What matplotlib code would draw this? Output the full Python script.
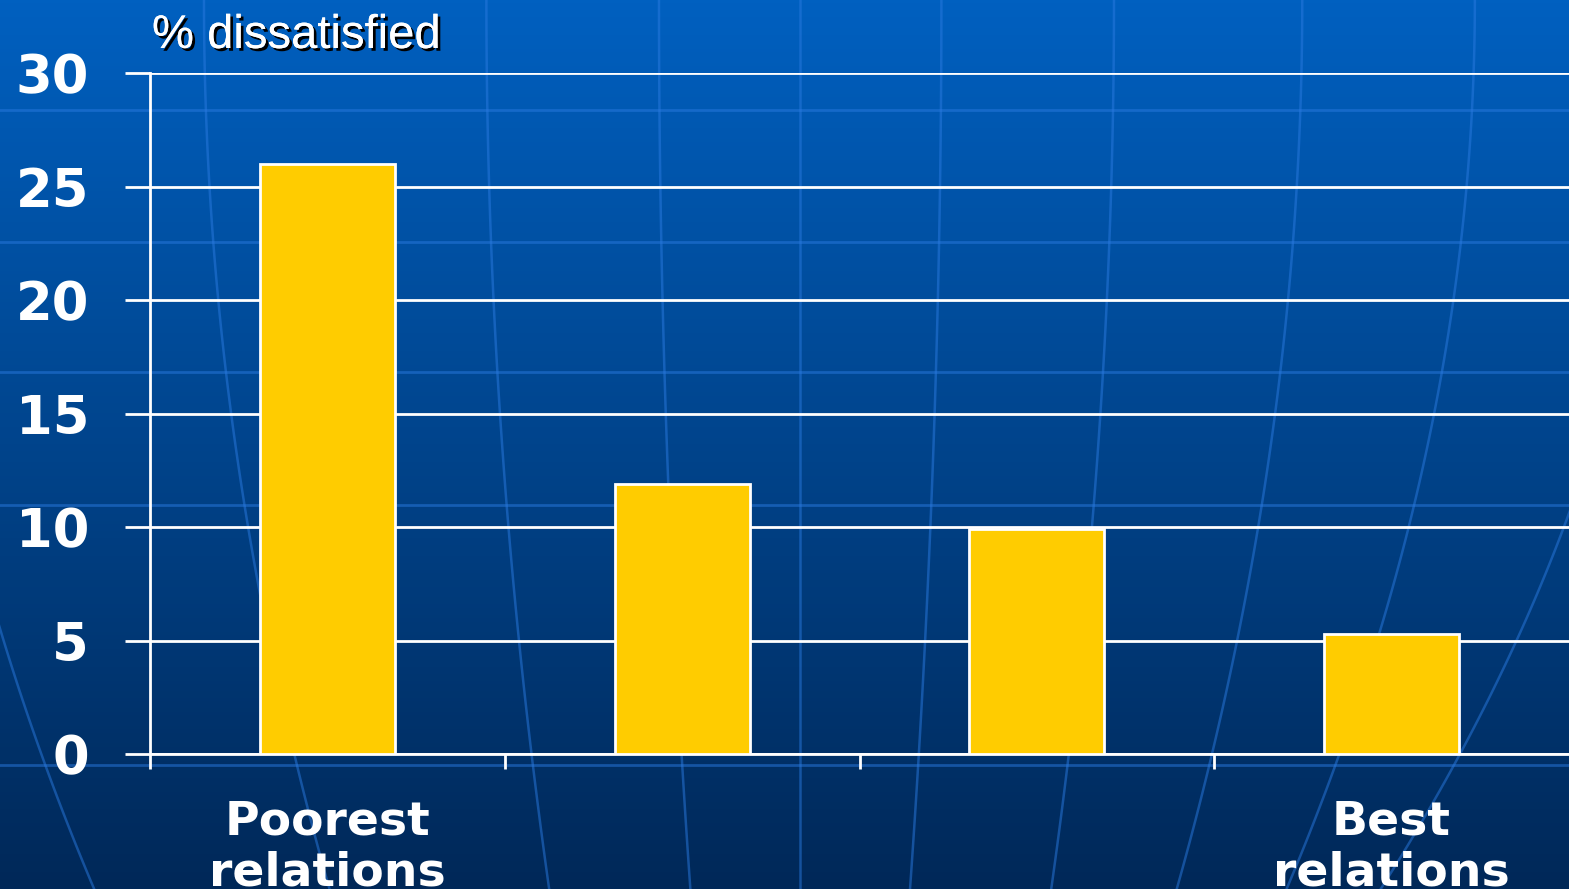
import numpy as np
import matplotlib
matplotlib.use('Agg')
import matplotlib.pyplot as plt
import matplotlib.patheffects as pe

categories = ['Poorest\nrelations', '', '', 'Best\nrelations']
values = [26.0, 11.9, 9.9, 5.3]
yticks = [0, 5, 10, 15, 20, 25, 30]

plt.rcParams['font.family'] = ['Liberation Sans', 'DejaVu Sans']

fig = plt.figure(figsize=(15.69, 8.89), dpi=100)

# background gradient + faint globe lines
bg = fig.add_axes([0, 0, 1, 1])
grad = np.linspace(0, 1, 256).reshape(-1, 1)
top = np.array([0, 96, 192]) / 255
bot = np.array([0, 40, 88]) / 255
img = top + (bot - top) * grad[..., None]
bg.imshow(img, extent=[0, 1, 0, 1], aspect='auto', origin='upper')
for yy in [1 - 110/889, 1 - 242/889, 1 - 372/889, 1 - 505/889, 1 - 765/889]:
    bg.axhline(yy, color='#2a7ae0', lw=2, alpha=0.5)
t = np.linspace(0, 1, 100)
for x0, bend in [(0.0, 0.06), (0.17, 0.04), (0.33, 0.02), (0.43, 0.01), (0.51, 0.0),
                 (0.59, -0.01), (0.69, -0.02), (0.79, -0.04), (0.88, -0.06), (0.97, -0.09)]:
    bg.plot(x0 + bend * (1 - t) ** 2 * 2 - bend, t, color='#2a7ae0', lw=1.8, alpha=0.5)
bg.set_xlim(0, 1)
bg.set_ylim(0, 1)
bg.axis('off')

ax = fig.add_axes([150/1569, 1 - 754/889, 1 - 150/1569, (754 - 73)/889])
ax.patch.set_alpha(0)

x = np.arange(len(values))
ax.bar(x, values, width=0.38, color='#FFCC00', edgecolor='white', linewidth=2, zorder=3)

ax.set_ylim(0, 30)
ax.set_xlim(-0.5, 3.5)
ax.set_yticks(yticks)
ax.set_yticklabels([str(v) for v in yticks], fontsize=38, fontweight='bold', color='white',
                   family='DejaVu Sans')
ax.yaxis.grid(True, color='white', lw=2, zorder=1)
ax.tick_params(axis='y', length=18, width=2, color='white', pad=26)

ax.set_xticks([-0.5, 0.5, 1.5, 2.5])
ax.set_xticklabels([])
ax.tick_params(axis='x', length=11, width=2, color='white', direction='out')

for s in ['top', 'right']:
    ax.spines[s].set_visible(False)
for s in ['left', 'bottom']:
    ax.spines[s].set_color('white')
    ax.spines[s].set_linewidth(2)

for i, lab in enumerate(categories):
    if lab:
        ax.text(i, -2.0, lab, ha='center', va='top', fontsize=34, fontweight='bold',
                color='white', linespacing=1.18, family='DejaVu Sans', clip_on=False)

fig.text(152/1569, 1 - 48/889, '% dissatisfied', fontsize=34, color='white',
         path_effects=[pe.withSimplePatchShadow(offset=(2, -2), shadow_rgbFace='black', alpha=1),
                       pe.Normal()])

fig.savefig('out.png', dpi=100)
